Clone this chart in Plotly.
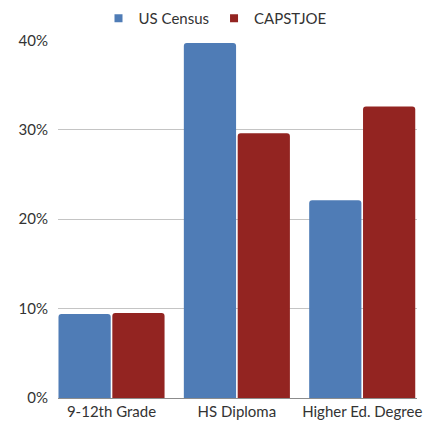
import plotly.graph_objects as go

categories = ["9-12th Grade", "HS Diploma", "Higher Ed. Degree"]
us_census = [9.4, 39.7, 22.1]
capstjoe = [9.5, 29.6, 32.6]
y_ticks = [0, 10, 20, 30, 40]
y_tick_labels = ["0%", "10%", "20%", "30%", "40%"]

BLUE = "#4f7cb6"
RED = "#932421"
FONT = "Lato, sans-serif"

fig = go.Figure()
for name, vals, color in [("US Census", us_census, BLUE), ("CAPSTJOE", capstjoe, RED)]:
    fig.add_trace(go.Bar(
        x=categories, y=vals, name=name, legendgroup=name, showlegend=False,
        marker=dict(color=color, cornerradius=3, line_width=0),
    ))
    # small square legend key, like the original
    fig.add_trace(go.Scatter(
        x=[None], y=[None], mode="markers", name=name, legendgroup=name,
        marker=dict(symbol="square", size=8, color=color),
    ))

fig.update_layout(
    width=430, height=422,
    margin=dict(l=58, r=13, t=40, b=24, autoexpand=False),
    font=dict(family=FONT, size=15, color="#333333"),
    paper_bgcolor="white", plot_bgcolor="white",
    barmode="group", bargap=0.141, bargroupgap=0.03,
    legend=dict(
        orientation="h", xref="container", x=0.5, xanchor="center",
        yref="container", y=0.995, yanchor="top",
        font=dict(size=15), itemwidth=30,
    ),
    xaxis=dict(
        type="category", range=[-0.427, 2.437], automargin=False,
        showgrid=False, showline=True, linecolor="#8c8c8c", linewidth=1,
        ticks="", tickfont=dict(size=15),
    ),
    yaxis=dict(
        range=[0, 40.03], tickvals=y_ticks, ticktext=y_tick_labels,
        automargin=False,
        showgrid=True, gridcolor="#c4c4c4", gridwidth=1,
        zeroline=False, showline=False, ticks="",
        ticklabelstandoff=9, tickfont=dict(size=15),
    ),
)

# drop the browser's default 8px body margin so the chart sits at 0,0
fig.write_html(
    "out.html",
    config={"displayModeBar": False},
    post_script="document.body.style.margin='0';",
)
